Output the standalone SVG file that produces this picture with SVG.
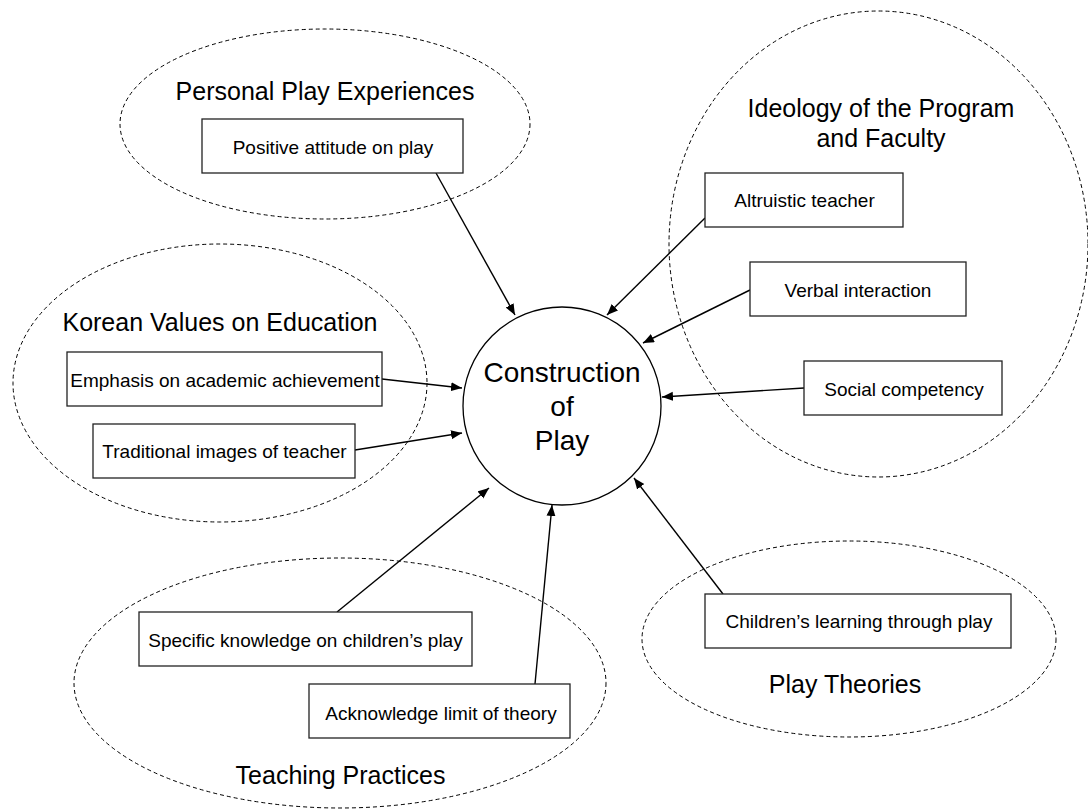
<svg xmlns="http://www.w3.org/2000/svg" width="1088" height="809" viewBox="0 0 1088 809">
<style>
.grp{fill:none;stroke:#000;stroke-width:1;stroke-dasharray:4 3}
.box{fill:#fff;stroke:#222;stroke-width:1.3}
.title{font-family:"Liberation Sans",Arial,sans-serif;font-size:25px;fill:#000;text-anchor:middle}
.lbl{font-family:"Liberation Sans",Arial,sans-serif;font-size:19px;fill:#000;text-anchor:middle}
.core{font-family:"Liberation Sans",Arial,sans-serif;font-size:28px;fill:#000;text-anchor:middle}
.con{stroke:#000;stroke-width:1.4;fill:none;marker-end:url(#arr)}
</style>
<defs>
<marker id="arr" markerUnits="userSpaceOnUse" markerWidth="12" markerHeight="10" refX="11" refY="4.5" orient="auto">
<path d="M0,0 L11,4.5 L0,9 z" fill="#000"/>
</marker>
</defs>
<rect width="1088" height="809" fill="#fff"/>

<g id="group-personal">
<ellipse class="grp" cx="325" cy="124" rx="205" ry="95"/>
<text class="title" x="325" y="100">Personal Play Experiences</text>
</g>
<g id="group-ideology">
<ellipse class="grp" cx="878.5" cy="244" rx="209.5" ry="233"/>
<text class="title" x="881" y="117">Ideology of the Program</text>
<text class="title" x="881" y="147">and Faculty</text>
</g>
<g id="group-korean">
<ellipse class="grp" cx="220" cy="383" rx="207" ry="139"/>
<text class="title" x="220" y="331">Korean Values on Education</text>
</g>
<g id="group-teaching">
<ellipse class="grp" cx="340" cy="683" rx="266" ry="125"/>
<text class="title" x="340.5" y="784">Teaching Practices</text>
</g>
<g id="group-theories">
<ellipse class="grp" cx="849" cy="639" rx="207" ry="98"/>
<text class="title" x="845" y="693">Play Theories</text>
</g>

<g id="connectors">
<line class="con" x1="436" y1="173" x2="515" y2="315"/>
<line class="con" x1="705" y1="218" x2="607" y2="315"/>
<line class="con" x1="750" y1="290" x2="643" y2="343"/>
<line class="con" x1="804" y1="388" x2="662" y2="397"/>
<line class="con" x1="382" y1="379" x2="462" y2="388"/>
<line class="con" x1="355" y1="450" x2="462" y2="433"/>
<line class="con" x1="337" y1="612" x2="489" y2="488"/>
<line class="con" x1="535" y1="684" x2="552" y2="505"/>
<line class="con" x1="723" y1="594" x2="634" y2="478"/>
</g>

<g id="node-construction">
<circle cx="562" cy="406" r="99" fill="#fff" stroke="#000" stroke-width="1.3"/>
<text class="core" x="562" y="382">Construction</text>
<text class="core" x="562" y="416">of</text>
<text class="core" x="562" y="450">Play</text>
</g>

<g id="node-positive">
<rect class="box" x="202" y="119" width="261" height="54"/>
<text class="lbl" x="333" y="154">Positive attitude on play</text>
</g>
<g id="node-altruistic">
<rect class="box" x="705" y="173" width="198" height="54"/>
<text class="lbl" x="804.5" y="207">Altruistic teacher</text>
</g>
<g id="node-verbal">
<rect class="box" x="750" y="262" width="216" height="54"/>
<text class="lbl" x="858" y="297">Verbal interaction</text>
</g>
<g id="node-social">
<rect class="box" x="804" y="361" width="198" height="54"/>
<text class="lbl" x="904" y="396">Social competency</text>
</g>
<g id="node-emphasis">
<rect class="box" x="67" y="352" width="315" height="54"/>
<text class="lbl" x="225" y="387">Emphasis on academic achievement</text>
</g>
<g id="node-traditional">
<rect class="box" x="93" y="424" width="262" height="54"/>
<text class="lbl" x="224.5" y="458">Traditional images of teacher</text>
</g>
<g id="node-specific">
<rect class="box" x="139" y="612" width="333" height="54"/>
<text class="lbl" x="305.5" y="647">Specific knowledge on children’s play</text>
</g>
<g id="node-acknowledge">
<rect class="box" x="309" y="684" width="261" height="54"/>
<text class="lbl" x="441" y="720">Acknowledge limit of theory</text>
</g>
<g id="node-children">
<rect class="box" x="705" y="594" width="306" height="54"/>
<text class="lbl" x="859" y="628">Children’s learning through play</text>
</g>
</svg>
